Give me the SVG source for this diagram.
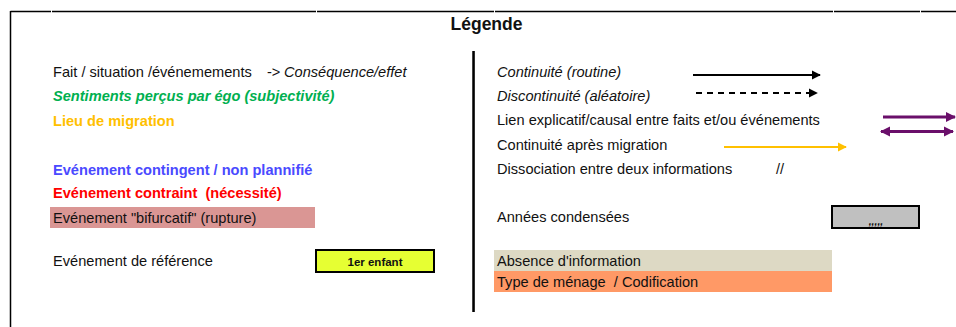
<svg xmlns="http://www.w3.org/2000/svg" width="956" height="327" viewBox="0 0 956 327">
<defs>
<style>
text{font-family:"Liberation Sans",Arial,sans-serif;font-size:14.6px;fill:#111;white-space:pre}
.b{font-weight:bold}
.i{font-style:italic}
.frame{stroke:#000;stroke-width:1.5;fill:none}
.box{stroke:#000;stroke-width:2}
</style>
<marker id="ah" viewBox="0 0 10 10" refX="9" refY="5" markerWidth="9" markerHeight="10" markerUnits="userSpaceOnUse" orient="auto"><path d="M0,0L10,5L0,10z" fill="#000"/></marker>
<marker id="ahy" viewBox="0 0 10 10" refX="9" refY="5" markerWidth="9" markerHeight="10" markerUnits="userSpaceOnUse" orient="auto"><path d="M0,0L10,5L0,10z" fill="#FFC000"/></marker>
<marker id="ahp" viewBox="0 0 10 10" refX="9" refY="5" markerWidth="10" markerHeight="11" markerUnits="userSpaceOnUse" orient="auto"><path d="M0,0L10,5L0,10z" fill="#6A0F6A"/></marker>
<marker id="ahps" viewBox="0 0 10 10" refX="1" refY="5" markerWidth="10" markerHeight="11" markerUnits="userSpaceOnUse" orient="auto"><path d="M10,0L0,5L10,10z" fill="#6A0F6A"/></marker>
</defs>
<rect width="956" height="327" fill="#fff"/>
<g id="frame">
<path class="frame" d="M10.5,11.5H51M52,11.5H316M317,11.5H494M495,11.5H833M834,11.5H920M921,11.5H956M10.5,11V327"/>
<line x1="474.5" y1="51" x2="474.5" y2="312" stroke="#bbb" stroke-width="1"/>
<line x1="473.5" y1="51" x2="473.5" y2="312" stroke="#000" stroke-width="2.5"/>
</g>
<text class="b" x="486.5" y="30" text-anchor="middle" style="font-size:17.5px">Légende</text>
<g id="left">
<g id="fait"><text x="53" y="77">Fait / situation /événemements</text><text x="267" y="77">-&gt;</text><text class="i" x="284" y="77">Conséquence/effet</text></g>
<g id="sentiments"><text class="b i" x="53" y="101" style="fill:#00B050">Sentiments perçus par égo (subjectivité)</text></g>
<g id="lieu"><text class="b" x="53" y="126" style="fill:#FFC000">Lieu de migration</text></g>
<g id="contingent"><text class="b" x="53" y="175" style="fill:#4A4AFF">Evénement contingent / non plannifié</text></g>
<g id="contraint"><text class="b" x="53" y="198" style="fill:#FF0000">Evénement contraint  (nécessité)</text></g>
<g id="bifurcatif"><rect x="50" y="207" width="265" height="21" fill="#DA9694"/><text x="53" y="223">Evénement "bifurcatif" (rupture)</text></g>
<g id="reference"><text x="53" y="266">Evénement de référence</text></g>
<g id="enfant"><rect class="box" x="316" y="250" width="118" height="22" fill="#E6FF33"/><text class="b" x="375" y="266" text-anchor="middle" style="font-size:11.5px">1er enfant</text></g>
</g>
<g id="right">
<g id="continuite"><text class="i" x="497" y="77">Continuité (routine)</text></g>
<g id="discontinuite"><text class="i" x="497" y="101">Discontinuité (aléatoire)</text></g>
<g id="lien"><text x="497" y="125">Lien explicatif/causal entre faits et/ou événements</text></g>
<g id="apres"><text x="497" y="150">Continuité après migration</text></g>
<g id="dissociation"><text x="497" y="174">Dissociation entre deux informations</text><text x="776" y="174">//</text></g>
<g id="condensees"><text x="497" y="222">Années condensées</text><rect class="box" x="832" y="206" width="87" height="22" fill="#C0C0C0"/><text class="i b" x="876" y="225" text-anchor="middle" style="font-size:10.5px">,,,,,</text></g>
<g id="absence"><rect x="494" y="250" width="338" height="21" fill="#DDD9C4"/><text x="497" y="266">Absence d'information</text></g>
<g id="menage"><rect x="494" y="271" width="338" height="21" fill="#FF9966"/><text x="497" y="287">Type de ménage  / Codification</text></g>
</g>
<g id="connectors">
<line x1="693" y1="75" x2="820" y2="75" stroke="#000" stroke-width="2" marker-end="url(#ah)"/>
<line x1="696" y1="93" x2="817" y2="93" stroke="#000" stroke-width="2" stroke-dasharray="6,5" marker-end="url(#ah)"/>
<line x1="883" y1="117" x2="955" y2="117" stroke="#6A0F6A" stroke-width="3" marker-end="url(#ahp)"/>
<line x1="881" y1="131.5" x2="953" y2="131.5" stroke="#6A0F6A" stroke-width="3" marker-start="url(#ahps)" marker-end="url(#ahp)"/>
<line x1="724" y1="147" x2="846" y2="147" stroke="#FFC000" stroke-width="2" marker-end="url(#ahy)"/>
</g>
</svg>
